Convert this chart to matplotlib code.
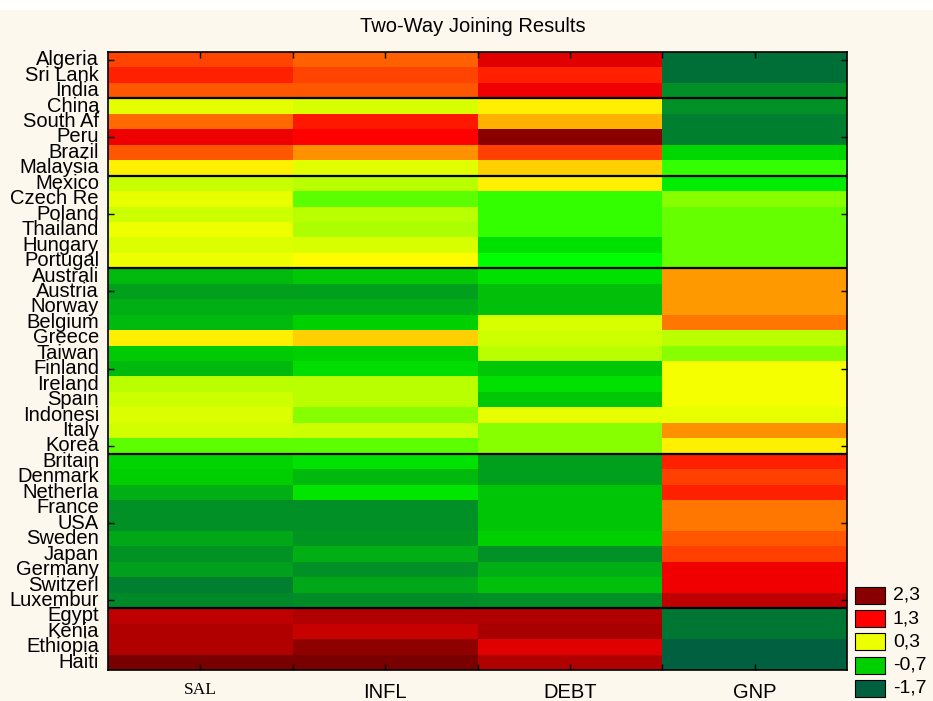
import numpy as np
import matplotlib
matplotlib.use("Agg")
import matplotlib.pyplot as plt
import matplotlib.transforms as mtransforms
from matplotlib.colors import LinearSegmentedColormap, Normalize
from matplotlib.patches import Rectangle

countries = ["Algeria", "Sri Lank", "India",
             "China", "South Af", "Peru", "Brazil", "Malaysia",
             "Mexico", "Czech Re", "Poland", "Thailand", "Hungary", "Portugal",
             "Australi", "Austria", "Norway", "Belgium", "Greece", "Taiwan",
             "Finland", "Ireland", "Spain", "Indonesi", "Italy", "Korea",
             "Britain", "Denmark", "Netherla", "France", "USA", "Sweden",
             "Japan", "Germany", "Switzerl", "Luxembur",
             "Egypt", "Kenia", "Ethiopia", "Haiti"]
variables = ["SAL", "INFL", "DEBT", "GNP"]

sal = [1.05, 1.18, 0.98,
       0.27, 0.91, 1.45, 0.98, 0.41,
       0.18, 0.28, 0.19, 0.30, 0.24, 0.30,
       -0.90, -1.13, -0.99, -0.90, 0.41, -0.75, -0.90, 0.13, 0.19, 0.24, 0.21, -0.16,
       -0.68, -0.72, -0.99, -1.27, -1.27, -1.06, -1.25, -1.13, -1.41, -1.34,
       1.86, 1.98, 1.98, 2.40]
infl = [0.94, 1.05, 0.98,
        0.23, 1.21, 1.30, 0.76, 0.26,
        0.13, -0.16, 0.13, 0.09, 0.23, 0.36,
        -0.77, -1.13, -0.99, -0.70, 0.53, -0.70, -0.63, 0.13, 0.13, -0.02, 0.19, -0.16,
        -0.60, -0.90, -0.58, -1.27, -1.27, -1.22, -0.99, -1.27, -1.06, -1.30,
        1.98, 1.78, 2.26, 2.40]
debt = [1.57, 1.18, 1.43,
        0.41, 0.64, 2.30, 1.06, 0.53,
        0.41, -0.29, -0.29, -0.29, -0.61, -0.45,
        -0.61, -0.84, -0.84, 0.23, 0.19, 0.13, -0.77, -0.61, -0.77, 0.28, -0.02, -0.02,
        -1.13, -1.13, -0.80, -0.80, -0.80, -0.70, -1.27, -0.99, -0.84, -1.27,
        1.98, 2.05, 1.57, 1.98]
gnp = [-1.56, -1.56, -1.27,
       -1.27, -1.41, -1.41, -0.66, -0.29,
       -0.55, -0.02, -0.13, -0.13, -0.13, -0.13,
       0.73, 0.73, 0.73, 0.86, 0.13, -0.02, 0.32, 0.32, 0.32, 0.28, 0.76, 0.41,
       1.18, 1.06, 1.18, 0.86, 0.86, 0.98, 1.06, 1.43, 1.43, 1.84,
       -1.50, -1.50, -1.70, -1.70]

cluster_breaks = [3, 8, 14, 26, 36]
legend_values = [2.3, 1.3, 0.3, -0.7, -1.7]
legend_labels = ["2,3", "1,3", "0,3", "-0,7", "-1,7"]

VMIN, VMAX = -1.7, 2.4
stops = [(-1.7, "#006040"), (-0.7, "#00D000"), (-0.45, "#00FF00"),
         (0.3, "#EEFF00"), (0.35, "#FFFF00"), (1.3, "#FF0000"),
         (2.3, "#8B0000"), (2.4, "#780000")]
cmap = LinearSegmentedColormap.from_list(
    "joining", [((v - VMIN) / (VMAX - VMIN), c) for v, c in stops], N=1024)
norm = Normalize(VMIN, VMAX)

data = np.array([sal, infl, debt, gnp]).T

W, H = 933, 701
BG = "#FDF8EE"
fig = plt.figure(figsize=(W / 100, H / 100), dpi=100, facecolor=BG)
fig.add_artist(Rectangle((0, 1 - 10 / H), 1, 10 / H, transform=fig.transFigure,
                         facecolor="white", edgecolor="none", zorder=0))

L, R, T, B = 108, 847, 52, 670
ax = fig.add_axes([L / W, 1 - B / H, (R - L) / W, (B - T) / H])
ax.pcolormesh(np.arange(len(variables) + 1), np.arange(len(countries) + 1), data,
              cmap=cmap, norm=norm, shading="flat")
ax.set_xlim(0, len(variables))
ax.set_ylim(len(countries), 0)
for b in cluster_breaks:
    ax.axhline(b, color="black", lw=1.6)

for s in ax.spines.values():
    s.set_linewidth(1.2)

ax.set_xticks(np.arange(len(variables)) + 0.5)
ax.set_xticklabels(variables)
ax.set_xticks(np.arange(1, len(variables)), minor=True)
ax.tick_params(axis="x", which="both", direction="in", top=True, bottom=True,
               length=4, width=1, pad=9, labelsize=14.5)
for lab in ax.get_xticklabels():
    lab.set_fontfamily("Liberation Sans")
ax.get_xticklabels()[0].set_fontfamily("Liberation Serif")
ax.get_xticklabels()[0].set_fontsize(12.5)

ax.set_yticks(np.arange(0, len(countries), 5) + 0.5)
ax.set_yticklabels([])
ax.tick_params(axis="y", which="both", direction="in", left=True, right=True,
               length=4, width=1)

trans = mtransforms.blended_transform_factory(ax.transAxes, ax.transData)
for i, name in enumerate(countries):
    ax.text(-9 / (R - L), i + 0.5, name, transform=trans, ha="right", va="center",
            fontsize=14.5, family="Liberation Sans", clip_on=False)

fig.text(473 / W, 1 - 27 / H, "Two-Way Joining Results", ha="center", va="center",
         fontsize=14.5, family="Liberation Sans")

for k, (v, lab) in enumerate(zip(legend_values, legend_labels)):
    top = 587 + k * 23.2
    fig.add_artist(Rectangle((855 / W, 1 - (top + 17) / H), 30 / W, 17 / H,
                             transform=fig.transFigure, facecolor=cmap(norm(v)),
                             edgecolor="black", lw=0.8))
    fig.text(893 / W, 1 - (top + 8.5) / H, lab, ha="left", va="center",
             fontsize=14, family="Liberation Sans")

fig.savefig("out.png", dpi=100, facecolor=fig.get_facecolor())
